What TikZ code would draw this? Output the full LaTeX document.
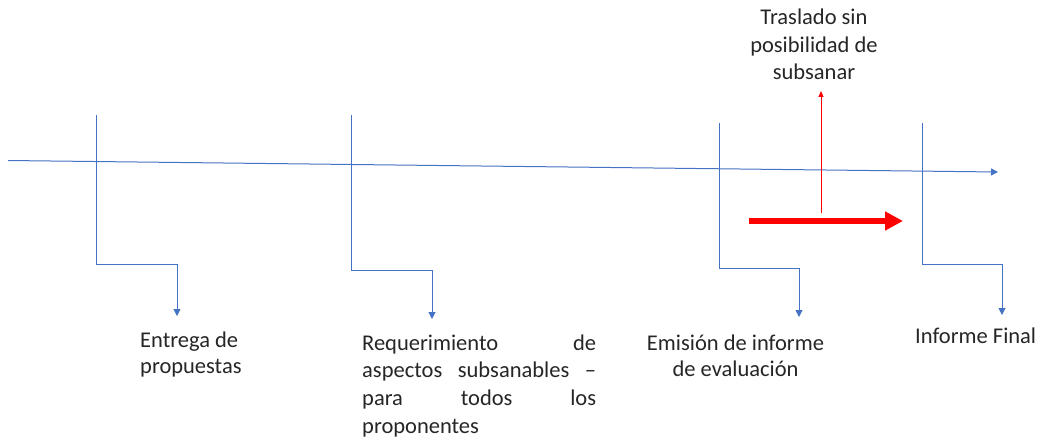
\documentclass[tikz,border=0pt]{standalone}
\usepackage{fontspec}
\setmainfont{Carlito}
\usetikzlibrary{arrows.meta}
\definecolor{lineblue}{HTML}{4472C4}
\definecolor{arrred}{HTML}{FF0000}
\tikzset{
  tl/.style={draw=lineblue, line width=1pt},
  blue tip/.style={-{Triangle[length=7pt,width=7pt]}, tl},
  lbl/.style={font=\fontsize{22.5}{26}\selectfont, inner sep=0pt, text=black!85},
  lblwide/.style={lbl, font=\fontsize{22.5}{27.7}\selectfont},
}
\begin{document}
\begin{tikzpicture}[x=1pt,y=-1pt]
\useasboundingbox (0,0) rectangle (1042,444);
% timeline
\coordinate (ts) at (8,160.5);
\coordinate (te) at (998,172);
\draw[blue tip] (ts) -- (te);
% markers
\coordinate (m1t) at (96,115);  \coordinate (m1c) at (96,264); \coordinate (m1r) at (177,264); \coordinate (m1e) at (177,316);
\coordinate (m2t) at (351,115); \coordinate (m2c) at (351,270); \coordinate (m2r) at (432,270); \coordinate (m2e) at (432,319);
\coordinate (m3t) at (719,123); \coordinate (m3c) at (719,268); \coordinate (m3r) at (799,268); \coordinate (m3e) at (799,317);
\coordinate (m4t) at (922,123); \coordinate (m4c) at (922,264); \coordinate (m4r) at (1002,264); \coordinate (m4e) at (1002,315);
\draw[blue tip] (m1t) -- (m1c) -- (m1r) -- (m1e);
\draw[blue tip] (m2t) -- (m2c) -- (m2r) -- (m2e);
\draw[blue tip] (m3t) -- (m3c) -- (m3r) -- (m3e);
\draw[blue tip] (m4t) -- (m4c) -- (m4r) -- (m4e);
% red arrows
\coordinate (ra) at (749,221);
\coordinate (rb) at (903,221);
\draw[arrred, line width=6pt, -{Triangle[length=18pt,width=18pt]}] (ra) -- (rb);
\coordinate (ua) at (821,213);
\coordinate (ub) at (821,91);
\draw[arrred, line width=0.9pt, -{Triangle[length=6pt,width=5pt]}] (ua) -- (ub);
% labels (base anchor = last line for align nodes)
\node[lblwide, anchor=base, align=center] (trasl) at (814,80) {Traslado sin\\posibilidad de\\subsanar};
\node[lbl, anchor=base west, align=left] (entrega) at (140,373) {Entrega de\\propuestas};
\node[lblwide, anchor=base west, text width=234pt] (reque) at (362,350)
  {Requerimiento\hfill de\\aspectos\hfill subsanables\hfill --\\para\hfill todos\hfill los\\proponentes};
\node[lbl, anchor=base, align=center] (emision) at (735.5,376) {Emisión de informe\\de evaluación};
\node[lbl, anchor=base west] (final) at (915,343) {Informe Final};
\end{tikzpicture}
\end{document}
